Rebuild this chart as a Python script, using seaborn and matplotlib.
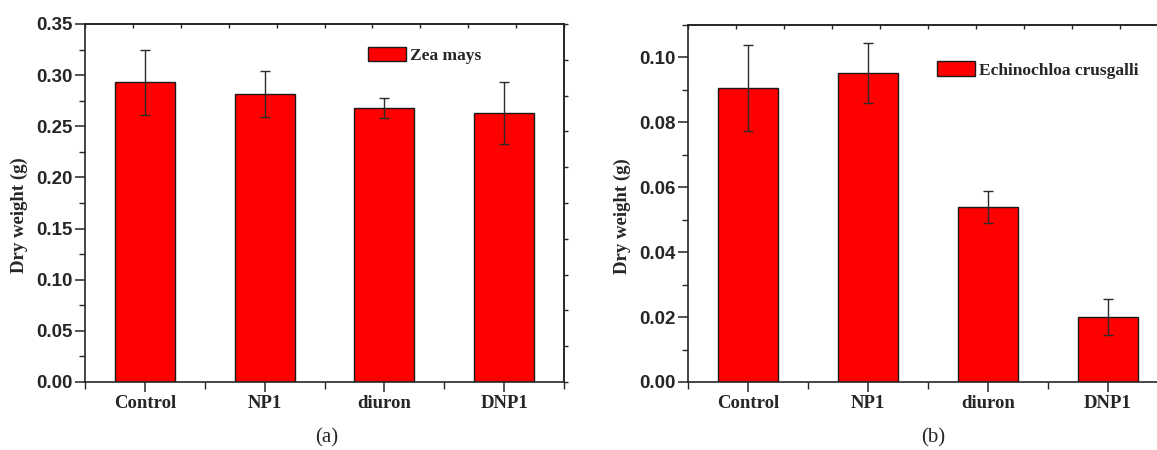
import matplotlib
matplotlib.use("Agg")
import matplotlib.pyplot as plt
import seaborn as sns
import numpy as np
import pandas as pd
from matplotlib.patches import Patch
from matplotlib.ticker import MultipleLocator

# Data
categories = ["Control", "NP1", "diuron", "DNP1"]
zea_mean = [0.293, 0.282, 0.268, 0.263]
zea_err = [0.032, 0.0225, 0.010, 0.030]
echi_mean = [0.0905, 0.0952, 0.0539, 0.0200]
echi_err = [0.0133, 0.0093, 0.0048, 0.0056]

serif = "Liberation Serif"
sans = "Liberation Sans"

sns.set_style("ticks")
plt.rcParams["font.family"] = [serif, "DejaVu Serif"]
plt.rcParams["axes.linewidth"] = 1.2


def draw_panel(ax, means, errs, legend_label, ymax, major, minor, leg_anchor, ylabel_y):
    df = pd.DataFrame({"treatment": categories, "dry_weight": means})
    sns.barplot(data=df, x="treatment", y="dry_weight", color="#ff0000",
                saturation=1, width=0.5, edgecolor="#1a1a1a", linewidth=1.0,
                errorbar=None, ax=ax)
    pos = np.arange(len(categories))
    ax.errorbar(pos, means, yerr=errs, fmt="none", ecolor="#2b2b2b",
                elinewidth=1.0, capsize=3.5, capthick=1.0)

    ax.set_xlim(-0.5, len(categories) - 0.5)
    ax.set_ylim(0, ymax)
    ax.yaxis.set_major_locator(MultipleLocator(major))
    ax.yaxis.set_minor_locator(MultipleLocator(minor))
    ax.xaxis.set_minor_locator(MultipleLocator(0.5))
    ax.yaxis.set_major_formatter(matplotlib.ticker.FormatStrFormatter("%.2f"))

    for s in ax.spines.values():
        s.set_visible(True)
        s.set_linewidth(1.2)

    ax.tick_params(axis="both", which="major", direction="out", length=7, width=1.1)
    ax.tick_params(axis="both", which="minor", direction="out", length=4, width=1.0)
    ax.tick_params(axis="x", which="minor", length=5)
    ax.tick_params(axis="x", pad=2, labelsize=13.5)
    ax.tick_params(axis="y", pad=2, labelsize=13.5)
    for lab in ax.get_xticklabels():
        lab.set_fontfamily(serif)
        lab.set_fontweight("bold")
    for lab in ax.get_yticklabels():
        lab.set_fontfamily(sans)
        lab.set_fontweight("bold")

    ax.set_xlabel("")
    ax.set_ylabel("Dry weight (g)", fontsize=13.5, fontweight="bold", family=serif)
    ax.yaxis.set_label_coords(-0.119, ylabel_y)

    # secondary tick marks on top spine
    top = ax.secondary_xaxis("top")
    top.set_xticks(np.arange(-0.5, len(categories) - 0.5 + 0.01, 0.4))
    top.tick_params(direction="in", length=3, width=1.0, labeltop=False)

    handle = Patch(facecolor="#ff0000", edgecolor="#1a1a1a", linewidth=1.0)
    ax.legend([handle], [legend_label], loc="center left", bbox_to_anchor=leg_anchor,
              frameon=False, borderpad=0, borderaxespad=0, handlelength=2.2,
              handleheight=0.9, handletextpad=0.2,
              prop={"family": serif, "weight": "bold", "size": 12.5})


fig = plt.figure(figsize=(11.57, 4.5), dpi=100)
ax1 = fig.add_axes([85 / 1157, 1 - 382 / 450, 479 / 1157, 358 / 450])
ax2 = fig.add_axes([688 / 1157, 1 - 382 / 450, 480 / 1157, 357 / 450])

draw_panel(ax1, zea_mean, zea_err, "Zea mays", 0.35, 0.05, 0.025, (0.591, 0.913), 0.466)
draw_panel(ax2, echi_mean, echi_err, "Echinochloa crusgalli", 0.11, 0.02, 0.01, (0.519, 0.874), 0.466)

# left panel: extra ticks on the right spine
right = ax1.secondary_yaxis("right")
right.set_yticks(np.arange(0.0, 0.351, 0.035))
right.tick_params(direction="out", length=3, width=1.0, labelright=False)

fig.text(327 / 1157, 1 - 438 / 450, "(a)", ha="center", va="center",
         fontsize=15, family=serif)
fig.text(933 / 1157, 1 - 438 / 450, "(b)", ha="center", va="center",
         fontsize=15, family=serif)

fig.savefig("out.png", dpi=100)
